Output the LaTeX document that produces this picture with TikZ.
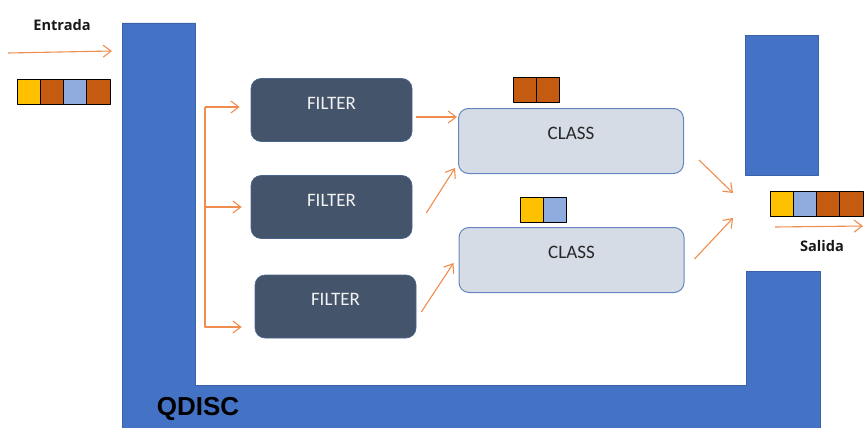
\documentclass[tikz,border=0pt]{standalone}
\usepackage{fontspec}
\setmainfont{Carlito}
\newfontfamily\opensans{Open Sans}
\newfontfamily\arialsans{Liberation Sans}
\usetikzlibrary{positioning,arrows.meta}
\definecolor{qblue}{HTML}{4472C4}
\definecolor{qedge}{HTML}{3A62A8}
\definecolor{fslate}{HTML}{44546A}
\definecolor{fedge}{HTML}{4A6590}
\definecolor{cgray}{HTML}{D6DCE5}
\definecolor{cedge}{HTML}{6585BE}
\definecolor{flowc}{HTML}{F08C4E}
\definecolor{pkyel}{HTML}{FFC000}
\definecolor{pkbrn}{HTML}{C55A11}
\definecolor{pkblu}{HTML}{8FAADC}
\begin{document}
\begin{tikzpicture}[x=1pt,y=-1pt,line join=round,
    >={Straight Barb[length=8pt,width=12pt]},
    flowline/.style={draw=flowc,line width=1.1pt,->},
    filterbox/.style={draw=fedge,line width=0.6pt,fill=fslate,rounded corners=10pt,
        minimum width=161pt,minimum height=63pt,text=white!95!black,
        font=\fontsize{19}{19}\selectfont,text height=12pt,text depth=14pt},
    classbox/.style={draw=cedge,line width=1pt,fill=cgray,rounded corners=10pt,
        minimum width=225pt,minimum height=65pt,text=black!85,
        font=\fontsize{19}{19}\selectfont,text height=12pt,text depth=15pt},
    pkt/.style={draw=black,line width=1pt,minimum width=23.3pt,minimum height=25pt,
        inner sep=0pt,outer sep=0pt},
    tag/.style={font=\opensans\bfseries\fontsize{14.6}{15}\selectfont,text=black!90}]
\useasboundingbox (0,0) rectangle (867,428);
% qdisc walls
\filldraw[fill=qblue,draw=qedge,line width=0.6pt] (122,23) -- (195,23) -- (195,385) -- (746,385)
    -- (746,271) -- (820,271) -- (820,431) -- (122,431) -- cycle;
\filldraw[fill=qblue,draw=qedge,line width=0.6pt] (745,35) rectangle (818,175);
\node[font=\arialsans\bfseries\fontsize{26}{26}\selectfont] (qd) at (198,409) {QDISC};

% filters and classes
\node[filterbox] (f1) at (331.5,110) {FILTER};
\node[filterbox] (f2) at (331.5,207) {FILTER};
\node[filterbox] (f3) at (335.5,306.5) {FILTER};
\node[classbox] (c1) at (571,141) {CLASS};
\node[classbox] (c2) at (571.5,260) {CLASS};

% packets
\node[pkt,fill=pkyel,anchor=north west] (e1) at (17,79) {};
\node[pkt,fill=pkbrn,right=0pt of e1] (e2) {};
\node[pkt,fill=pkblu,right=0pt of e2] (e3) {};
\node[pkt,fill=pkbrn,right=0pt of e3] (e4) {};
\node[pkt,fill=pkbrn,anchor=north west] (k1) at (513,77) {};
\node[pkt,fill=pkbrn,right=0pt of k1] (k2) {};
\node[pkt,fill=pkyel,anchor=north west] (m1) at (520,197) {};
\node[pkt,fill=pkblu,right=0pt of m1] (m2) {};
\node[pkt,fill=pkyel,anchor=north west] (s1) at (770,191) {};
\node[pkt,fill=pkblu,right=0pt of s1] (s2) {};
\node[pkt,fill=pkbrn,right=0pt of s2] (s3) {};
\node[pkt,fill=pkbrn,right=0pt of s3] (s4) {};

\node[tag] (tin) at (62,25) {Entrada};
\node[tag] (tout) at (822,246) {Salida};

% flows
\coordinate (src) at (8,53);
\coordinate (lbar) at (112,51);
\coordinate (br) at (205,107);
\coordinate (merge) at (733,205.5);
\coordinate (sink) at (863,226);
\draw[flowline] (src) -- (lbar);
\draw[flowline] (br) -- ([shift={(-11,-3)}]f1.west);
\draw[flowline] (br |- f2.west) -- ([xshift=-9]f2.west);
\draw[flowline] (br) |- ([shift={(-13,20.5)}]f3.west);
\draw[flowline] ([shift={(4,7)}]f1.east) -- ([shift={(-1,9)}]c1.north west);
\draw[flowline] ([shift={(14,6)}]f2.east) -- ([shift={(-3,-6)}]c1.south west);
\draw[flowline] ([shift={(5,5.5)}]f3.east) -- ([shift={(-5,3)}]c2.west);
\draw[flowline] ([shift={(15,19)}]c1.east) -- ([shift={(0,-12.5)}]merge);
\draw[flowline] ([shift={(10,-1)}]c2.east) -- ([shift={(0,12.5)}]merge);
\draw[flowline] ([shift={(5,11)}]s1.south west) -- (sink);
\end{tikzpicture}
\end{document}
